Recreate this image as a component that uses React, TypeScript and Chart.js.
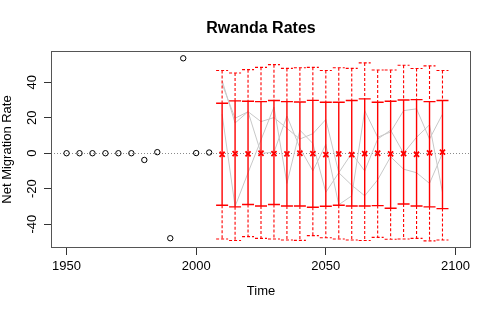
import { useEffect, useRef } from 'react';
import { Chart, registerables } from 'chart.js';

Chart.register(...registerables);

const FONT = '"Liberation Sans", Arial, Helvetica, sans-serif';

const obsYears = [1950, 1955, 1960, 1965, 1970, 1975, 1980, 1985, 1990, 1995, 2000, 2005];
const obsValues = [0, 0, 0, 0, 0, 0, -3.8, 0.6, -47.9, 53.5, 0.1, 0.4];

const projYears = [2010, 2015, 2020, 2025, 2030, 2035, 2040, 2045, 2050, 2055, 2060, 2065, 2070, 2075, 2080, 2085, 2090, 2095];
const median = [-0.6, -0.2, -0.4, 0, -0.2, -0.4, 0, -0.2, -0.8, -0.4, -0.8, -0.2, 0, -0.4, -0.2, -0.6, 0.2, 0.6];
const upper80 = [28.2, 29.5, 29.3, 29.1, 29.7, 29.1, 28.9, 29.8, 28.7, 28.7, 29.7, 30.6, 28.7, 29.3, 30.0, 30.2, 29.1, 29.7];
const lower80 = [-29.3, -30.2, -28.9, -29.7, -28.9, -29.7, -29.7, -30.4, -29.9, -29.3, -29.7, -29.7, -29.5, -31.0, -28.6, -29.7, -30.2, -31.2];
const upper95 = [46.6, 45.2, 47.1, 48.4, 49.9, 47.8, 48.2, 48.4, 46.6, 48.2, 47.8, 50.9, 46.9, 46.9, 49.6, 47.7, 49.2, 46.6];
const lower95 = [-48.3, -49.2, -47.0, -48.0, -48.3, -48.9, -49.1, -46.4, -47.6, -48.3, -48.9, -49.2, -47.4, -48.5, -48.3, -48.0, -49.4, -48.9];

const trajA = [41, 17, 23.4, 17.8, 20.1, 14, 8, 11, 19, -11, -18, -24, -15, -2, -9, -11, -17, 0];
const trajB = [39, 19.7, 23.4, 0, 0.5, 21, 3, -10, 5, -29, -24, 24, 9, 12, 24, 25, 8, 22];
const trajC = [22, -30, -11, 7.5, 26, -17, 13, 5.5, -22, -11, 0, -10, 8, 13, 0, 9, 16, -22];

const xTicks = [1950, 2000, 2050, 2100];
const yTicks = [-40, -20, 0, 20, 40];

const MEDIAN_INDEX = 0;

const pts = (xs: number[], ys: number[]) => xs.map((x, i) => ({ x, y: ys[i] }));

const rPlot = {
  id: 'rplot',
  beforeDatasetsDraw(chart: any) {
    const { ctx, chartArea: a, scales } = chart;
    const y0 = scales.y.getPixelForValue(0);
    ctx.save();
    ctx.strokeStyle = '#8a8a8a';
    ctx.lineWidth = 1;
    ctx.setLineDash([1, 2]);
    ctx.beginPath();
    ctx.moveTo(a.left, Math.round(y0) + 0.5);
    ctx.lineTo(a.right, Math.round(y0) + 0.5);
    ctx.stroke();
    ctx.restore();
  },
  beforeDatasetDraw(chart: any, args: any) {
    if (args.index !== MEDIAN_INDEX) return;
    const { ctx, scales } = chart;
    const { x, y } = scales;
    const hw = 6;
    ctx.save();
    ctx.strokeStyle = '#ff0000';
    projYears.forEach((yr, i) => {
      const px = x.getPixelForValue(yr);
      const pu80 = y.getPixelForValue(upper80[i]);
      const pl80 = y.getPixelForValue(lower80[i]);
      const pu95 = y.getPixelForValue(upper95[i]);
      const pl95 = y.getPixelForValue(lower95[i]);
      ctx.setLineDash([3, 2]);
      ctx.lineWidth = 1.1;
      ctx.beginPath();
      ctx.moveTo(px, pu95);
      ctx.lineTo(px, pu80);
      ctx.moveTo(px, pl80);
      ctx.lineTo(px, pl95);
      ctx.moveTo(px - hw, pu95);
      ctx.lineTo(px + hw, pu95);
      ctx.moveTo(px - hw, pl95);
      ctx.lineTo(px + hw, pl95);
      ctx.stroke();
      ctx.setLineDash([]);
      ctx.lineWidth = 1.4;
      ctx.beginPath();
      ctx.moveTo(px, pu80);
      ctx.lineTo(px, pl80);
      ctx.stroke();
      ctx.lineWidth = 1.4;
      ctx.beginPath();
      ctx.moveTo(px - hw, pu80);
      ctx.lineTo(px + hw, pu80);
      ctx.moveTo(px - hw, pl80);
      ctx.lineTo(px + hw, pl80);
      ctx.stroke();
    });
    ctx.restore();
  },
  afterDraw(chart: any) {
    const { ctx, chartArea: a, scales } = chart;
    ctx.save();
    ctx.strokeStyle = '#555';
    ctx.lineWidth = 1;
    ctx.strokeRect(Math.round(a.left) + 0.5, Math.round(a.top) + 0.5, Math.round(a.right - a.left) - 1, Math.round(a.bottom - a.top) - 1);
    ctx.fillStyle = '#000';
    ctx.font = `13px ${FONT}`;
    ctx.textAlign = 'center';
    ctx.textBaseline = 'middle';
    yTicks.forEach((v) => {
      const py = scales.y.getPixelForValue(v);
      ctx.save();
      ctx.translate(32, py);
      ctx.rotate(-Math.PI / 2);
      ctx.fillText(String(v), 0, 0);
      ctx.restore();
    });
    ctx.restore();
  },
};

export default function App() {
  const ref = useRef<HTMLCanvasElement | null>(null);
  useEffect(() => {
    document.body.style.margin = '0';
    if (!ref.current) return;
    const chart = new Chart(ref.current, {
      type: 'scatter',
      data: {
        datasets: [
          {
            label: 'median',
            data: pts(projYears, median),
            pointStyle: 'crossRot',
            pointRadius: 3.6,
            borderWidth: 1.8,
            borderColor: '#ff0000',
            backgroundColor: '#ff0000',
            showLine: false,
            order: 0,
          },
          {
            label: 'observed',
            data: pts(obsYears, obsValues),
            pointStyle: 'circle',
            pointRadius: 2.7,
            borderWidth: 1,
            borderColor: '#000',
            backgroundColor: 'rgba(0,0,0,0)',
            showLine: false,
            order: 1,
          },
          ...[trajA, trajB, trajC].map((t, k) => ({
            label: 'traj' + k,
            data: pts(projYears, t),
            showLine: true,
            borderColor: '#c8c8c8',
            borderWidth: 1,
            pointRadius: 0,
            order: 3,
          })),
        ],
      },
      options: {
        animation: false,
        responsive: true,
        maintainAspectRatio: false,
        events: [],
        layout: { padding: { right: 27, left: 0, top: 0, bottom: 0 } },
        plugins: {
          legend: { display: false },
          tooltip: { enabled: false },
          title: {
            display: true,
            text: 'Rwanda Rates',
            fullSize: false,
            color: '#000',
            font: { family: FONT, size: 16, weight: 'bold', lineHeight: 1.2 },
            padding: { top: 18.5, bottom: 13.3 },
          },
        },
        scales: {
          x: {
            type: 'linear',
            min: 1944,
            max: 2106,
            afterBuildTicks: (s: any) => {
              s.ticks = xTicks.map((v) => ({ value: v }));
            },
            afterFit: (s: any) => {
              s.height = 64;
            },
            ticks: {
              autoSkip: false,
              maxRotation: 0,
              color: '#000',
              padding: 4,
              font: { family: FONT, size: 13 },
              callback: (v: any) => String(v),
            },
            grid: { drawOnChartArea: false, drawTicks: true, tickLength: 7, color: '#333' },
            border: { display: false },
            title: {
              display: true,
              text: 'Time',
              color: '#000',
              font: { family: FONT, size: 13, lineHeight: 1.2 },
              padding: { top: 0, bottom: 12.5 },
            },
          },
          y: {
            type: 'linear',
            min: -53.4,
            max: 57.6,
            afterBuildTicks: (s: any) => {
              s.ticks = yTicks.map((v) => ({ value: v }));
            },
            afterFit: (s: any) => {
              s.width = 51;
            },
            ticks: {
              autoSkip: false,
              color: '#000',
              font: { family: FONT, size: 13 },
              callback: () => '',
            },
            grid: { drawOnChartArea: false, drawTicks: true, tickLength: 7, color: '#333' },
            border: { display: false },
            title: {
              display: true,
              text: 'Net Migration Rate',
              color: '#000',
              font: { family: FONT, size: 13, lineHeight: 1 },
              padding: { top: 0.5, bottom: 0 },
            },
          },
        },
      },
      plugins: [rPlot],
    } as any);
    return () => chart.destroy();
  }, []);
  return (
    <div style={{ position: 'relative', width: 498, height: 312 }}>
      <canvas ref={ref} />
    </div>
  );
}
